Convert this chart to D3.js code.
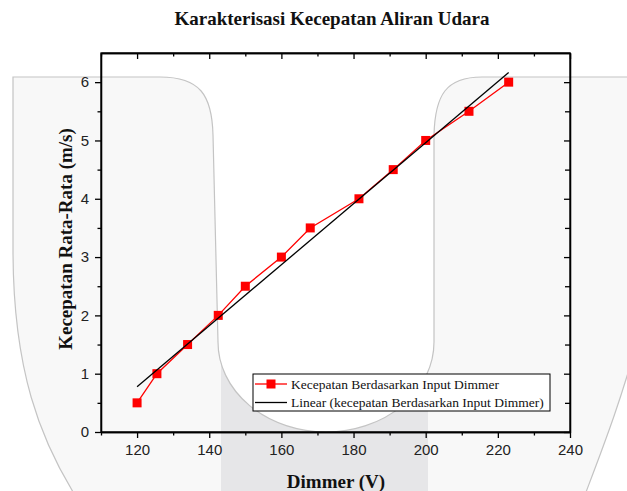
<html>
    <head>
        <title>Karakterisasi Kecepatan Aliran Udara</title>
        <script src="https://d3js.org/d3.v7.min.js"></script>
    </head>

    <style>
        body {
        margin: 0;
        background: #fff;
        }

        svg {
        display: block;
        }

        .axis path, .axis line {
        stroke: #000;
        stroke-width: 1.3;
        }

        .axis text {
        font-family: Arial, 'Liberation Sans', sans-serif;
        font-size: 15px;
        fill: #222;
        }

        text.title, text.label {
        font-family: 'Times New Roman', 'Liberation Serif', serif;
        font-size: 19px;
        font-weight: bold;
        fill: #111;
        }

        text.legend {
        font-family: 'Times New Roman', 'Liberation Serif', serif;
        font-size: 13.5px;
        fill: #111;
        }
    </style>

    <body>
        <svg width="627" height="491"></svg>

    <script>
        // data
        const dimmer = [120, 125.5, 134, 142.5, 150, 160, 168, 181.5, 191, 200, 212, 223];
        const speed = [0.5, 1, 1.5, 2, 2.5, 3, 3.5, 4, 4.5, 5, 5.5, 6];
        const xTicks = [120, 140, 160, 180, 200, 220, 240];
        const xMinor = [110, 130, 150, 170, 190, 210, 230];
        const yTicks = [0, 1, 2, 3, 4, 5, 6];
        const yMinor = [0.5, 1.5, 2.5, 3.5, 4.5, 5.5];
        const seriesName = 'Kecepatan Berdasarkan Input Dimmer';
        const fitName = 'Linear (kecepatan Berdasarkan Input Dimmer)';

        const points = dimmer.map((d, i) => ({ x: d, y: speed[i] }));

        // least squares fit
        const mx = d3.mean(dimmer), my = d3.mean(speed);
        const slope = d3.sum(points, p => (p.x - mx) * (p.y - my)) / d3.sum(points, p => (p.x - mx) ** 2);
        const intercept = my - slope * mx;
        const xExt = d3.extent(dimmer);
        const fit = xExt.map(x => ({ x: x, y: intercept + slope * x }));

        const svg = d3.select('svg');

        const pLeft = 101, pRight = 570, pTop = 53, pBottom = 432;

        const xScale = d3.scaleLinear().domain([110, 240]).range([pLeft, pRight]);
        const yScale = d3.scaleLinear().domain([0, 6.5]).range([pBottom, pTop]);
        const fmt = d3.format('d');

        // background watermark
        const uPath = 'M13,77 L160,77 C200,77 212,95 213,135 L218,342 ' +
            'A108,90 0 0 0 434,342 L434,135 C435,95 446,77 482,77 L640,77 L640,330 ' +
            'C622,400 600,455 583,500 L78,500 C40,440 13,370 13,250 Z';

        svg.append('clipPath')
        .attr('id', 'wm')
        .append('path')
        .attr('d', uPath);

        svg.append('path')
        .attr('d', uPath)
        .attr('fill', '#f8f8f8');

        svg.append('rect')
        .attr('clip-path', 'url(#wm)')
        .attr('x', 221)
        .attr('y', 200)
        .attr('width', 207)
        .attr('height', 300)
        .attr('fill', '#e6e6e8');

        svg.append('path')
        .attr('d', uPath)
        .attr('fill', 'none')
        .attr('stroke', '#c4c4c4')
        .attr('stroke-width', 1.2);

        // axes
        const addAxis = (axis, tx, ty) => svg.append('g')
        .attr('class', 'axis')
        .attr('transform', `translate(${tx}, ${ty})`)
        .call(axis);

        addAxis(d3.axisBottom(xScale).tickValues(xTicks).tickFormat(fmt).tickSize(6).tickSizeOuter(0).tickPadding(6), 0, pBottom);
        addAxis(d3.axisBottom(xScale).tickValues(xMinor).tickSize(3.5).tickSizeOuter(0).tickFormat(''), 0, pBottom);
        addAxis(d3.axisTop(xScale).tickValues(xTicks).tickSize(-6).tickSizeOuter(0).tickFormat(''), 0, pTop);
        addAxis(d3.axisTop(xScale).tickValues(xMinor).tickSize(-3.5).tickSizeOuter(0).tickFormat(''), 0, pTop);

        addAxis(d3.axisLeft(yScale).tickValues(yTicks).tickFormat(fmt).tickSize(6).tickSizeOuter(0).tickPadding(6), pLeft, 0);
        addAxis(d3.axisLeft(yScale).tickValues(yMinor).tickSize(3.5).tickSizeOuter(0).tickFormat(''), pLeft, 0);
        addAxis(d3.axisRight(yScale).tickValues(yTicks).tickSize(-6).tickSizeOuter(0).tickFormat(''), pRight, 0);
        addAxis(d3.axisRight(yScale).tickValues(yMinor).tickSize(-5).tickSizeOuter(0).tickFormat(''), pRight, 0);

        // full frame so the corners meet
        svg.append('rect')
        .attr('x', pLeft)
        .attr('y', pTop)
        .attr('width', pRight - pLeft)
        .attr('height', pBottom - pTop)
        .attr('fill', 'none')
        .attr('stroke', '#000')
        .attr('stroke-width', 1.3);

        // data line
        const line = d3.line()
        .x(d => xScale(d.x))
        .y(d => yScale(d.y));

        svg.append('path')
        .datum(points)
        .attr('d', line)
        .attr('fill', 'none')
        .attr('stroke', '#ff0000')
        .attr('stroke-width', 1.3);

        const ms = 9;
        svg.selectAll('rect.marker')
        .data(points)
        .enter()
        .append('rect')
        .attr('class', 'marker')
        .attr('x', d => xScale(d.x) - ms / 2)
        .attr('y', d => yScale(d.y) - ms / 2)
        .attr('width', ms)
        .attr('height', ms)
        .attr('fill', '#ff0000');

        svg.append('path')
        .datum(fit)
        .attr('d', line)
        .attr('fill', 'none')
        .attr('stroke', '#000')
        .attr('stroke-width', 1.3);

        // legend
        const lg = svg.append('g')
        .attr('transform', 'translate(253, 374)');

        lg.append('rect')
        .attr('width', 297)
        .attr('height', 37)
        .attr('fill', '#fff')
        .attr('stroke', '#000')
        .attr('stroke-width', 1);

        lg.append('line')
        .attr('x1', 2).attr('x2', 34)
        .attr('y1', 10).attr('y2', 10)
        .attr('stroke', '#ff0000')
        .attr('stroke-width', 1.3);

        lg.append('rect')
        .attr('x', 18 - ms / 2)
        .attr('y', 10 - ms / 2)
        .attr('width', ms)
        .attr('height', ms)
        .attr('fill', '#ff0000');

        lg.append('line')
        .attr('x1', 2).attr('x2', 34)
        .attr('y1', 28.5).attr('y2', 28.5)
        .attr('stroke', '#000')
        .attr('stroke-width', 1.3);

        lg.append('text')
        .attr('class', 'legend')
        .attr('x', 38)
        .attr('y', 14.5)
        .text(seriesName);

        lg.append('text')
        .attr('class', 'legend')
        .attr('x', 38)
        .attr('y', 33)
        .text(fitName);

        // titles
        svg.append('text')
        .attr('class', 'title')
        .attr('x', 332)
        .attr('y', 25)
        .attr('text-anchor', 'middle')
        .text('Karakterisasi Kecepatan Aliran Udara');

        svg.append('text')
        .attr('class', 'label')
        .attr('x', 336)
        .attr('y', 488)
        .attr('text-anchor', 'middle')
        .text('Dimmer (V)');

        svg.append('text')
        .attr('class', 'label')
        .attr('transform', 'translate(72, 239) rotate(-90)')
        .attr('text-anchor', 'middle')
        .text('Kecepatan Rata-Rata (m/s)');
    </script>
    </body>
</html>
